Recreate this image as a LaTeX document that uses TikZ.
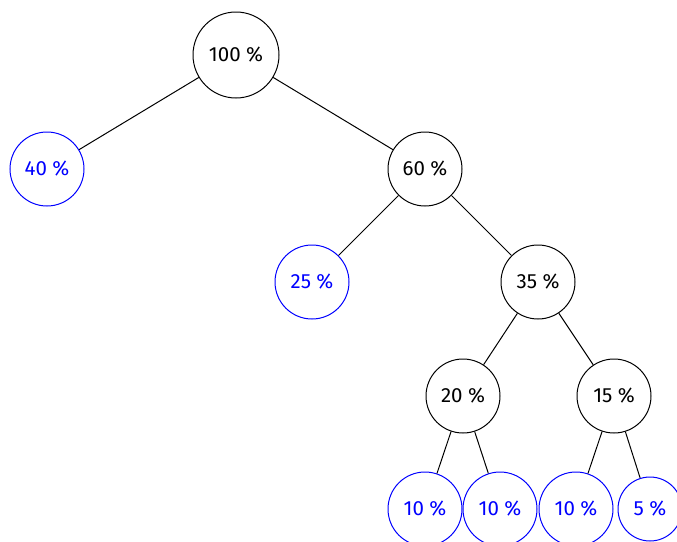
\documentclass[tikz,border=0pt]{standalone}
\usepackage{fontspec}
\setmainfont{Fira Sans}
\begin{document}
\begin{tikzpicture}[x=1pt,y=-1pt,
  inner/.style={circle,draw=black,line width=1pt,text=black,minimum size=74pt,inner sep=0pt,font=\fontsize{20.5}{24}\selectfont},
  leaf/.style={circle,draw=blue,line width=1pt,text=blue,minimum size=74pt,inner sep=0pt,font=\fontsize{20.5}{24}\selectfont},
  edge/.style={draw=black,line width=1pt}]
\useasboundingbox (0,0) rectangle (677,541);
\node[inner,minimum size=86pt] (n100) at (236,55) {100 \%};
\node[leaf] (n40) at (47,169) {40 \%};
\node[inner] (n60) at (425,169) {60 \%};
\node[leaf] (n25) at (312,282) {25 \%};
\node[inner] (n35) at (538,282) {35 \%};
\node[inner] (n20) at (463,396) {20 \%};
\node[inner] (n15) at (614,396) {15 \%};
\node[leaf] (n10a) at (425,509) {10 \%};
\node[leaf] (n10b) at (500,509) {10 \%};
\node[leaf] (n10c) at (576,509) {10 \%};
\node[leaf,minimum size=64pt] (n5) at (650,509) {5 \%};
\draw[edge] (n100) -- (n40);
\draw[edge] (n100) -- (n60);
\draw[edge] (n60) -- (n25);
\draw[edge] (n60) -- (n35);
\draw[edge] (n35) -- (n20);
\draw[edge] (n35) -- (n15);
\draw[edge] (n20) -- (n10a);
\draw[edge] (n20) -- (n10b);
\draw[edge] (n15) -- (n10c);
\draw[edge] (n15) -- (n5);
\end{tikzpicture}
\end{document}
